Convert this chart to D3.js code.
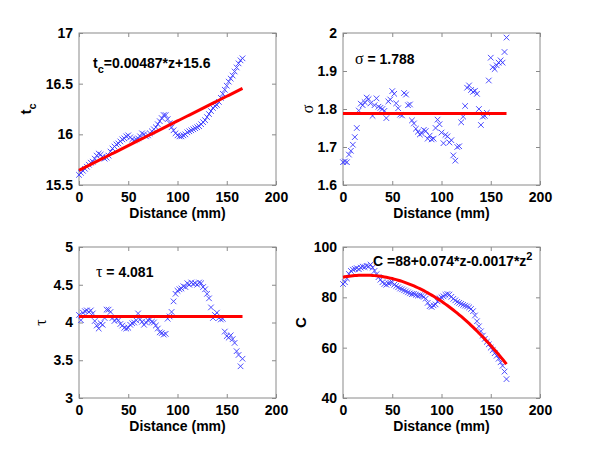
<!DOCTYPE html>
<html>
<head>
<meta charset="utf-8">
<script src="https://cdn.jsdelivr.net/npm/d3@7"></script>
<style>
  body { margin: 0; background: #fff; }
  text { font-family: "Liberation Sans", Arial, sans-serif; }
</style>
</head>
<body>
<script>
var width = 600;
var height = 450;

// distance along the sample (mm), same for all four panels
var distance = [0, 2, 4, 6, 8, 10, 12, 14, 16, 18, 20, 22, 24, 26, 28, 30, 32, 34, 36, 38,
    40, 42, 44, 46, 48, 50, 52, 54, 56, 58, 60, 62, 64, 66, 68, 70, 72, 74, 76, 78,
    80, 82, 84, 86, 88, 90, 92, 94, 96, 98, 100, 102, 104, 106, 108, 110, 112, 114, 116, 118,
    120, 122, 124, 126, 128, 130, 132, 134, 136, 138, 140, 142, 144, 146, 148, 150, 152, 154, 156, 158,
    160, 162, 164, 166];

var tcValues = [15.60, 15.62, 15.64, 15.66, 15.68, 15.70, 15.72, 15.73, 15.76, 15.79, 15.81, 15.80, 15.78, 15.76, 15.77, 15.79, 15.83, 15.86, 15.88, 15.90,
    15.91, 15.93, 15.95, 15.96, 15.98, 15.99, 15.97, 15.95, 15.94, 15.95, 15.96, 15.98, 16.01, 16.00, 15.98, 15.99, 16.01, 16.03, 16.05, 16.07,
    16.10, 16.13, 16.16, 16.19, 16.19, 16.15, 16.11, 16.07, 16.04, 16.01, 15.99, 15.98, 15.98, 15.99, 16.00, 16.02, 16.03, 16.04, 16.05, 16.06,
    16.07, 16.08, 16.10, 16.12, 16.14, 16.17, 16.20, 16.23, 16.26, 16.28, 16.29, 16.32, 16.36, 16.40, 16.44, 16.48, 16.52, 16.55, 16.58, 16.62,
    16.66, 16.70, 16.73, 16.75];

var sigmaValues = [1.660, 1.662, 1.660, 1.680, 1.690, 1.706, 1.726, 1.750, 1.796, 1.814, 1.810, 1.818, 1.830, 1.826, 1.815, 1.782, 1.810, 1.828, 1.806, 1.803,
    1.800, 1.795, 1.776, 1.820, 1.825, 1.847, 1.840, 1.815, 1.802, 1.785, 1.783, 1.842, 1.838, 1.810, 1.812, 1.770, 1.762, 1.748, 1.740, 1.733,
    1.736, 1.745, 1.742, 1.722, 1.730, 1.720, 1.722, 1.750, 1.772, 1.760, 1.738, 1.710, 1.732, 1.728, 1.712, 1.718, 1.678, 1.664, 1.700, 1.702,
    1.765, 1.780, 1.808, 1.856, 1.862, 1.850, 1.845, 1.848, 1.840, 1.800, 1.758, 1.780, 1.782, 1.790, 1.875, 1.935, 1.910, 1.905, 1.915, 1.922,
    1.928, 1.922, 1.950, 1.988];

var tauValues = [4.10, 4.03, 4.13, 4.15, 4.16, 4.14, 4.16, 4.12, 4.02, 3.96, 3.92, 3.99, 3.97, 4.06, 4.17, 4.17, 4.14, 4.06, 4.02, 4.05,
    4.03, 3.98, 3.96, 3.93, 3.92, 3.93, 3.97, 3.99, 4.00, 4.03, 4.12, 4.04, 4.01, 3.97, 4.00, 4.03, 4.04, 4.01, 4.00, 3.96,
    3.92, 3.87, 3.86, 3.84, 3.85, 4.05, 4.08, 4.14, 4.28, 4.38, 4.42, 4.44, 4.45, 4.48, 4.47, 4.52, 4.50, 4.53, 4.51, 4.52,
    4.50, 4.53, 4.52, 4.47, 4.44, 4.38, 4.32, 4.20, 4.06, 4.10, 4.13, 4.06, 4.04, 4.05, 3.88, 3.82, 3.80, 3.83, 3.78, 3.73,
    3.62, 3.57, 3.42, 3.52];

var cValues = [85.3, 86.0, 87.5, 89.3, 90.5, 91.0, 91.3, 91.6, 91.2, 91.8, 92.2, 92.0, 92.5, 92.3, 93.0, 91.8, 90.5, 89.2, 88.0, 87.0,
    86.0, 85.3, 85.0, 85.6, 85.8, 86.0, 85.0, 84.5, 84.0, 83.5, 83.2, 82.8, 82.4, 82.0, 81.6, 81.3, 81.4, 81.0, 80.7, 80.8,
    80.6, 80.2, 79.5, 77.8, 76.5, 76.2, 76.8, 77.2, 78.4, 79.6, 80.0, 80.4, 81.0, 81.3, 81.1, 80.2, 79.4, 78.8, 78.2, 77.8,
    77.4, 77.0, 76.7, 76.4, 76.0, 75.4, 74.5, 72.8, 70.5, 68.5, 66.5, 64.8, 63.5, 62.3, 61.3, 60.0, 59.0, 57.8, 56.8, 55.6,
    54.2, 52.8, 50.5, 47.5];

// fitted models shown in red
var tcFit = [15.645, 0.00487];          // intercept, slope
var sigmaMean = 1.788;
var tauMean = 4.081;
var cFit = [88, 0.074, -0.0017];        // a + b*z + c*z^2

var xTicks = [0, 50, 100, 150, 200];
var tcTicks = [15.5, 16, 16.5, 17];
var sigmaTicks = [1.6, 1.7, 1.8, 1.9, 2];
var tauTicks = [3, 3.5, 4, 4.5, 5];
var cTicks = [40, 60, 80, 100];

var svg = d3.select('body')
    .append('svg')
    .attr('width', width)
    .attr('height', height);

function drawPanel(p) {
    var w = p.w, h = p.h;
    var g = svg.append('g')
        .attr('transform', 'translate(' + p.left + ',' + p.top + ')');

    var xScale = d3.scaleLinear().domain([0, 200]).range([0, w]);
    var yScale = d3.scaleLinear().domain(p.yDomain).range([h, 0]);

    // box
    g.append('rect')
        .attr('width', w)
        .attr('height', h)
        .attr('fill', '#fff')
        .attr('stroke', '#8a8a8a')
        .attr('stroke-width', 1);

    // inward ticks on all four sides, labels bottom and left
    var xAxis = d3.axisBottom(xScale).tickValues(xTicks).tickSizeInner(-4).tickSizeOuter(0).tickPadding(7)
        .tickFormat(d3.format('d'));
    var xTop = d3.axisTop(xScale).tickValues(xTicks).tickSizeInner(-4).tickSizeOuter(0).tickFormat('');
    var yAxis = d3.axisLeft(yScale).tickValues(p.yTicks).tickSizeInner(-4).tickSizeOuter(0).tickPadding(6)
        .tickFormat(function(d) { return String(d); });
    var yRight = d3.axisRight(yScale).tickValues(p.yTicks).tickSizeInner(-4).tickSizeOuter(0).tickFormat('');

    [[xAxis, 'translate(0,' + h + ')'], [xTop, null], [yAxis, null], [yRight, 'translate(' + w + ',0)']]
        .forEach(function(a) {
            var ag = g.append('g').call(a[0]);
            if (a[1]) ag.attr('transform', a[1]);
            ag.select('.domain').remove();
            ag.selectAll('line').attr('stroke', '#8a8a8a');
            ag.selectAll('text')
                .attr('fill', '#000')
                .style('font-size', '14px')
                .style('font-weight', 'bold')
                .style('font-family', '"Liberation Sans", Arial, sans-serif');
        });

    // data markers
    var pts = distance.map(function(z, i) { return [z, p.values[i]]; });
    g.append('g')
        .selectAll('path')
        .data(pts)
        .enter()
        .append('path')
        .attr('d', 'M-2.8,-2.8L2.8,2.8M-2.8,2.8L2.8,-2.8')
        .attr('transform', function(d) {
            return 'translate(' + xScale(d[0]) + ',' + yScale(d[1]) + ')';
        })
        .attr('stroke', '#3a3aff')
        .attr('stroke-width', 0.9)
        .attr('fill', 'none');

    // fitted line
    var fitLine = d3.line()
        .x(function(d) { return xScale(d); })
        .y(function(d) { return yScale(p.fit(d)); });
    g.append('path')
        .attr('d', fitLine(distance))
        .attr('fill', 'none')
        .attr('stroke', '#ff0000')
        .attr('stroke-width', 3);

    // x label
    g.append('text')
        .attr('x', w / 2)
        .attr('y', h + 33)
        .attr('text-anchor', 'middle')
        .style('font-size', '14px')
        .style('font-weight', 'bold')
        .text('Distance (mm)');

    // y label
    var yl = g.append('text')
        .attr('transform', 'translate(' + p.yLabelX + ',' + (h / 2) + ') rotate(-90)')
        .attr('text-anchor', 'middle');
    p.yLabel(yl);

    // annotation
    var an = g.append('text')
        .attr('x', p.noteX)
        .attr('y', p.noteY)
        .style('font-size', '14px')
        .style('font-weight', 'bold');
    p.note(an);
}

drawPanel({
    left: 79, top: 33, w: 197, h: 152,
    yDomain: [15.5, 17], yTicks: tcTicks, values: tcValues,
    fit: function(z) { return tcFit[0] + tcFit[1] * z; },
    yLabelX: -48,
    yLabel: function(t) {
        t.style('font-size', '15px').style('font-weight', 'bold');
        t.append('tspan').text('t');
        t.append('tspan').attr('dy', 5).style('font-size', '11px').text('c');
    },
    noteX: 14, noteY: 35,
    note: function(t) {
        t.append('tspan').text('t');
        t.append('tspan').attr('dy', 5).style('font-size', '11px').text('c');
        t.append('tspan').attr('dy', -5).text('=0.00487*z+15.6');
    }
});

drawPanel({
    left: 343, top: 33, w: 197, h: 152,
    yDomain: [1.6, 2], yTicks: sigmaTicks, values: sigmaValues,
    fit: function() { return sigmaMean; },
    yLabelX: -30,
    yLabel: function(t) {
        t.style('font-size', '16px').style('font-family', '"Liberation Serif", serif').text('σ');
    },
    noteX: 12, noteY: 31,
    note: function(t) {
        t.append('tspan').style('font-weight', 'normal').style('font-size', '16px')
            .style('font-family', '"Liberation Serif", serif').text('σ');
        t.append('tspan').text(' = ' + sigmaMean);
    }
});

drawPanel({
    left: 79, top: 247, w: 197, h: 151,
    yDomain: [3, 5], yTicks: tauTicks, values: tauValues,
    fit: function() { return tauMean; },
    yLabelX: -33,
    yLabel: function(t) {
        t.style('font-size', '16px').style('font-family', '"Liberation Serif", serif').text('τ');
    },
    noteX: 17, noteY: 30,
    note: function(t) {
        t.append('tspan').style('font-weight', 'normal').style('font-size', '16px')
            .style('font-family', '"Liberation Serif", serif').text('τ');
        t.append('tspan').text(' = ' + tauMean);
    }
});

drawPanel({
    left: 343, top: 247, w: 197, h: 151,
    yDomain: [40, 100], yTicks: cTicks, values: cValues,
    fit: function(z) { return cFit[0] + cFit[1] * z + cFit[2] * z * z; },
    yLabelX: -37,
    yLabel: function(t) {
        t.style('font-size', '15px').style('font-weight', 'bold').text('C');
    },
    noteX: 30, noteY: 19,
    note: function(t) {
        t.append('tspan').text('C =88+0.074*z-0.0017*z');
        t.append('tspan').attr('dy', -6).style('font-size', '11px').text('2');
    }
});
</script>
</body>
</html>
